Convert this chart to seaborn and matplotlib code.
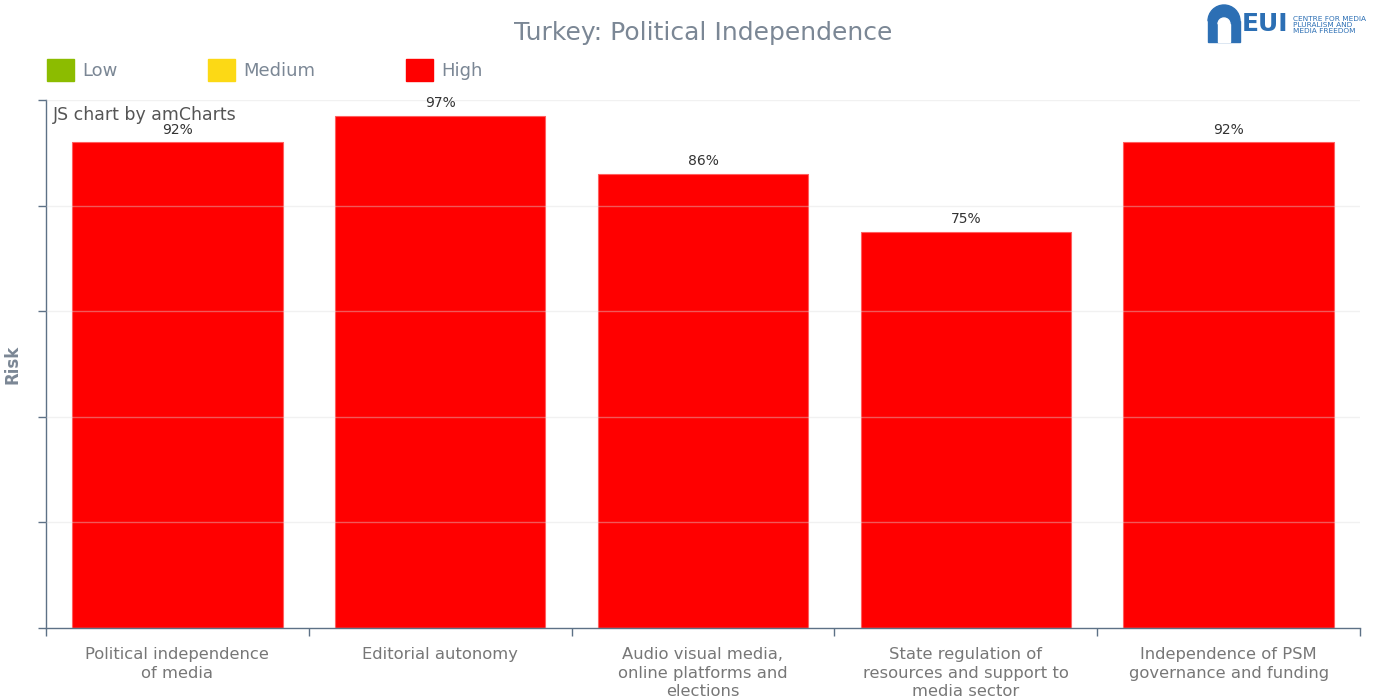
import pandas as pd
import matplotlib.pyplot as plt
import seaborn as sns
from matplotlib.patches import Patch, Rectangle, Wedge

categories = [
    "Political independence\nof media",
    "Editorial autonomy",
    "Audio visual media,\nonline platforms and\nelections",
    "State regulation of\nresources and support to\nmedia sector",
    "Independence of PSM\ngovernance and funding",
]
risk = [92, 97, 86, 75, 92]
legend_labels = ["Low", "Medium", "High"]
legend_colors = ["#8cbc00", "#fcd915", "#ff0000"]

GRAY = "#7b8795"
AXIS = "#5d7186"

sns.set_theme(style="white")
plt.rcParams["font.family"] = ["DejaVu Sans"]

df = pd.DataFrame({"indicator": categories, "risk": risk})

fig = plt.figure(figsize=(13.81, 7.0), dpi=100)
ax = fig.add_axes([46 / 1381, 1 - 628 / 700, (1360 - 46) / 1381, (628 - 100) / 700])

sns.barplot(data=df, x="indicator", y="risk", color="#ff0000", width=0.8,
            saturation=1, edgecolor="#ff6060", linewidth=0.8, ax=ax, zorder=2)

for c in ax.containers:
    ax.bar_label(c, labels=[f"{v}%" for v in risk], padding=4, fontsize=10, color="#333333")

ax.set_ylim(0, 100)
ax.set_xlim(-0.5, len(categories) - 0.5)
ax.set_yticks([0, 20, 40, 60, 80, 100])
ax.set_yticklabels([])
ax.yaxis.grid(True, color="#dddddd", alpha=0.4, linewidth=1, zorder=3)
ax.set_axisbelow(False)
ax.tick_params(axis="y", left=True, length=6, width=1, color=AXIS)

# category boundary ticks
ax.set_xticks([i + 0.5 for i in range(-1, len(categories))], minor=True)
ax.tick_params(axis="x", which="minor", bottom=True, length=6, width=1, color=AXIS)
ax.tick_params(axis="x", which="major", bottom=False, labelsize=11.8, labelcolor="#777777", pad=8)
for lbl in ax.get_xticklabels():
    lbl.set_verticalalignment("top")
    lbl.set_linespacing(1.28)

for s in ["top", "right"]:
    ax.spines[s].set_visible(False)
for s in ["left", "bottom"]:
    ax.spines[s].set_color(AXIS)
    ax.spines[s].set_linewidth(1)

ax.set_xlabel("")
ax.set_ylabel("Risk", fontsize=12, fontweight="bold", color=GRAY, labelpad=8)

ax.text(0.005, 0.972, "JS chart by amCharts", transform=ax.transAxes, fontsize=12.5,
        color="#555555", va="center", ha="left")

fig.text(0.509, 0.953, "Turkey: Political Independence", fontsize=18, color=GRAY,
         ha="center", va="center")

handles = [Patch(facecolor=c, edgecolor=c) for c in legend_colors]
fig.legend(handles, legend_labels, loc="center left", bbox_to_anchor=(40 / 1381, 1 - 70 / 700),
           ncol=3, frameon=False, fontsize=13, labelcolor=GRAY, handlelength=1.5,
           handleheight=1.5, handletextpad=0.45, columnspacing=5.0, borderaxespad=0)

# EUI logo, drawn in pixel units
blue = "#2c6fb4"
lax = fig.add_axes([1200 / 1381, 1 - 48 / 700, 180 / 1381, 46 / 700])
lax.set_xlim(1200, 1380)
lax.set_ylim(48, 2)
lax.axis("off")
lax.add_patch(Rectangle((1208, 21), 32, 21, color=blue))
lax.add_patch(Wedge((1224, 21), 16, 180, 360, color=blue))
lax.add_patch(Rectangle((1218, 24), 12, 18, color="white"))
lax.add_patch(Wedge((1224, 24), 6, 180, 360, color="white"))
lax.text(1242, 24, "EUI", fontsize=18, fontweight="bold", color=blue, ha="left", va="center")
lax.text(1293, 25, "CENTRE FOR MEDIA\nPLURALISM AND\nMEDIA FREEDOM",
         fontsize=5.3, color=blue, ha="left", va="center", linespacing=1.05)

fig.savefig("out.png", dpi=100)
